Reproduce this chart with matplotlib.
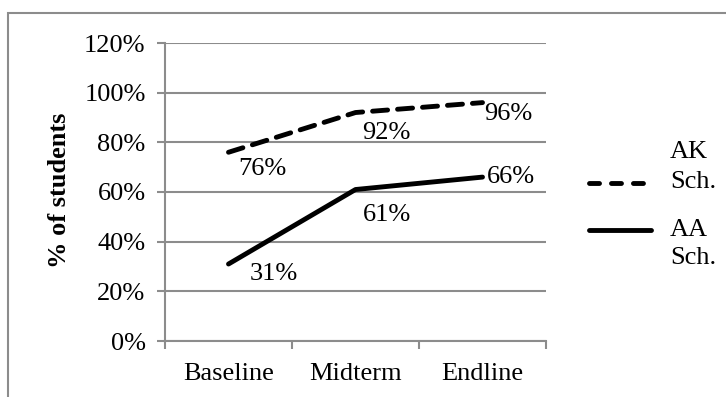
import matplotlib.pyplot as plt
from matplotlib.lines import Line2D
from matplotlib.patches import Rectangle
from matplotlib.ticker import PercentFormatter

# data
stages = ["Baseline", "Midterm", "Endline"]
ak_vals = [0.76, 0.92, 0.96]
aa_vals = [0.31, 0.61, 0.66]
ak_labels = ["76%", "92%", "96%"]
aa_labels = ["31%", "61%", "66%"]

plt.rcParams['font.family'] = ['Liberation Serif', 'DejaVu Serif']
grey = "#8c8c8c"
lw = 3.5

fig = plt.figure(figsize=(7.26, 3.97), dpi=100)
ax = fig.add_axes([165 / 726, 1 - 341 / 397, 381 / 726, 298 / 397])

x = list(range(len(stages)))
ax.plot(x, ak_vals, color="black", lw=lw, dashes=(3.1, 2.05),
        dash_capstyle="round", solid_capstyle="round")
ax.plot(x, aa_vals, color="black", lw=lw, solid_capstyle="round")

# data labels (offsets in points)
ak_off = [(7, -12), (5, -15), (1, -8)]
aa_off = [(15, -7), (5, -18), (3, 0)]
for xi, v, t, o in zip(x, ak_vals, ak_labels, ak_off):
    ax.annotate(t, (xi, v), xytext=o, textcoords="offset points",
                ha="left", va="center", fontsize=19)
for xi, v, t, o in zip(x, aa_vals, aa_labels, aa_off):
    ax.annotate(t, (xi, v), xytext=o, textcoords="offset points",
                ha="left", va="center", fontsize=19)

ax.set_ylim(0, 1.2)
ax.set_yticks([0, 0.2, 0.4, 0.6, 0.8, 1.0, 1.2])
ax.yaxis.set_major_formatter(PercentFormatter(1.0, decimals=0))
ax.grid(axis="y", color=grey, lw=1.5)
ax.set_axisbelow(True)

ax.set_xlim(-0.5, 2.5)
ax.set_xticks([-0.5, 0.5, 1.5, 2.5])
ax.set_xticklabels([])
ax.set_xticks(x, minor=True)
ax.set_xticklabels(stages, minor=True)
ax.tick_params(axis="x", which="major", direction="out", length=6,
               width=1.5, color=grey)
ax.tick_params(axis="x", which="minor", length=0, pad=16, labelsize=19)
ax.tick_params(axis="y", direction="out", length=6, width=1.5, color=grey,
               pad=8, labelsize=19)

for s in ["top", "right"]:
    ax.spines[s].set_visible(False)
for s in ["left", "bottom"]:
    ax.spines[s].set_color(grey)
    ax.spines[s].set_linewidth(1.5)

fig.text(59 / 726, 1 - 190 / 397, "% of students", rotation=90,
         ha="center", va="center", fontsize=19, fontweight="bold")

# legend drawn by hand
fig.add_artist(Line2D([589 / 726, 650 / 726], [1 - 183 / 397, 1 - 183 / 397],
                      color="black", lw=lw, dashes=(2.06, 2.46),
                      dash_capstyle="round"))
fig.add_artist(Line2D([589 / 726, 651 / 726], [1 - 230 / 397, 1 - 230 / 397],
                      color="black", lw=lw, solid_capstyle="round"))
fig.text(670 / 726, 1 - 152 / 397, "AK", va="center", fontsize=19)
fig.text(670 / 726, 1 - 182 / 397, "Sch.", va="center", fontsize=19)
fig.text(670 / 726, 1 - 230 / 397, "AA", va="center", fontsize=19)
fig.text(670 / 726, 1 - 258 / 397, "Sch.", va="center", fontsize=19)

# outer chart border
fig.add_artist(Rectangle((8 / 726, -0.05), 1.0, 1 - 13 / 397 + 0.05,
                         transform=fig.transFigure, fill=False,
                         edgecolor=grey, lw=1.5))

fig.savefig("out.png", dpi=100)
